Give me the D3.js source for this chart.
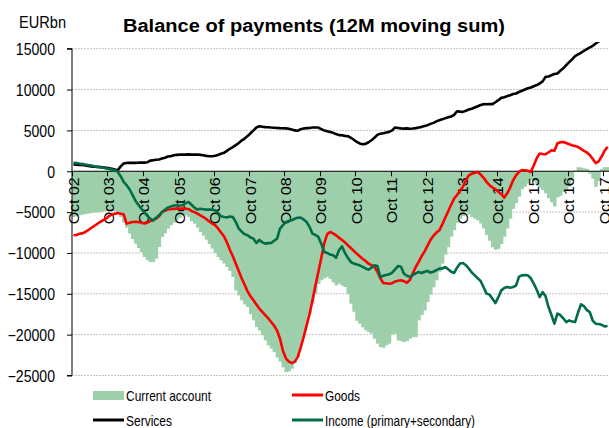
<!DOCTYPE html>
<html>
<head>
<meta charset="utf-8">
<script src="https://cdn.jsdelivr.net/npm/d3@7"></script>
<style>
  body { margin: 0; background: #fff; }
  svg { display: block; font-family: "Liberation Sans", Arial, sans-serif; }
</style>
</head>
<body>
<svg id="chart"></svg>
<script>
// monthly 12M moving sums, Oct 2002 .. Nov 2017 (EURbn)
const months = d3.timeMonth.range(new Date(2002, 9, 1), new Date(2017, 11, 1));

const tickLabels = ['Oct 02', 'Oct 03', 'Oct 04', 'Oct 05', 'Oct 06', 'Oct 07', 'Oct 08', 'Oct 09',
  'Oct 10', 'Oct 11', 'Oct 12', 'Oct 13', 'Oct 14', 'Oct 15', 'Oct 16', 'Oct 17'];
const yTicks = [-25000, -20000, -15000, -10000, -5000, 0, 5000, 10000, 15000];

const currentAccount = [
  -5600, -5500, -5390, -5300, -5250, -5190, -5100, -5050, -5000, -4980, -4900, -4860,
  -4800, -4780, -4900, -5300, -5600, -6300, -6900, -7640, -8300, -8860, -9400, -9880,
  -10500, -10900, -11110, -11100, -10700, -9270, -8040, -7600, -7020, -6600, -6300, -6000,
  -5700, -5390, -5400, -5600, -6100, -6410, -6900, -7430, -7900, -8370, -8900, -9470,
  -10000, -10500, -10900, -11300, -11720, -12200, -12940, -14580, -15200, -15800, -16300, -16620,
  -17500, -18250, -19070, -19500, -20090, -20700, -21310, -21700, -22130, -22800, -23300, -24000,
  -24580, -24500, -24170, -23500, -22750, -21300, -19880, -18700, -17430, -16200, -14980, -13800,
  -13350, -13100, -12940, -13200, -13600, -13970, -13760, -14000, -14170, -15000, -16210, -17200,
  -18300, -18660, -19100, -19480, -19700, -19880, -20500, -21100, -21520, -21600, -21300, -21110,
  -20000, -19880, -20700, -20800, -20910, -20800, -20500, -20300, -20300, -18250, -17600, -17030,
  -16000, -15100, -14200, -13350, -12300, -11310, -10200, -9300, -8000, -7200, -6300, -5800,
  -5500, -5000, -5300, -5600, -5800, -6000, -6400, -7000, -7800, -8500, -9300, -9600,
  -9500, -8900, -8000, -7000, -5800, -4600, -3900, -3100, -2200, -1900, -1500, -1100,
  -1300, -1700, -2000, -2300, -2700, -3300, -3800, -4300, -3200, -3000, -2500, -2300,
  -1900, -1100, 100, 500, 450, 350, 300, -300, -900, -1900, -1200, 300,
  500, 500
];

const goods = [
  -7840, -7800, -7640, -7600, -7430, -7200, -6950, -6700, -6450, -6210, -6000, -5800,
  -5500, -5310, -5200, -5100, -5200, -5270, -6410, -6300, -6210, -6200, -6210, -6300,
  -6410, -6300, -6100, -6000, -5800, -5510, -4980, -4850, -4690, -4650, -4600, -4570,
  -4570, -4580, -4570, -4650, -4860, -5000, -5200, -5390, -5600, -5850, -6150, -6400,
  -6600, -7000, -7500, -7950, -8700, -9600, -10400, -11300, -12200, -13100, -13900, -14700,
  -15300, -15800, -16300, -16800, -17200, -17600, -18000, -18450, -18900, -19500, -20500, -22000,
  -22900, -23300, -23480, -23300, -22750, -21600, -20300, -18900, -17500, -15800, -14000, -12300,
  -10600, -8800, -7700, -7430, -7600, -7840, -8150, -8400, -8700, -9060, -9400, -9750,
  -10080, -10400, -10700, -11000, -11310, -11500, -11720, -12300, -13100, -13680, -13700, -13760,
  -13700, -13500, -13400, -13350, -13450, -13650, -13300, -12500, -11720, -11100, -10400, -9800,
  -9100, -8400, -7900, -7500, -7230, -6500, -5700, -4900, -4100, -3350, -2900, -2400,
  -1900, -1100, -500, -290, -200, -80, -400, -800, -1300, -1700, -2000, -2200,
  -2500, -2800, -3230, -2700, -2000, -1100, -500, -80, 150, 120, 50, -80,
  700, 1600, 2170, 2100, 2080, 2300, 2570, 2500, 3390, 3550, 3590, 3450,
  3300, 3190, 3100, 2980, 2750, 2500, 2300, 2000, 1500, 1000, 1200, 1800,
  2500, 2980
];

const services = [
  820, 800, 780, 760, 700, 650, 600, 560, 530, 500, 470, 430,
  380, 300, 200, 120, 600, 950, 1020, 1030, 1040, 1020, 1050, 1060,
  1060, 1100, 1300, 1350, 1400, 1430, 1550, 1650, 1800, 1850, 1950, 2000,
  2040, 2050, 2040, 2060, 2030, 2040, 2050, 2000, 1950, 1880, 1840, 1840,
  1900, 2000, 2150, 2250, 2500, 2750, 2950, 3200, 3450, 3750, 4000, 4300,
  4650, 5000, 5350, 5500, 5450, 5400, 5380, 5350, 5330, 5300, 5280, 5270,
  5250, 5200, 5100, 5000, 4950, 5150, 5230, 5280, 5300, 5350, 5350, 5350,
  5150, 5000, 4900, 4800, 4700, 4550, 4420, 4400, 4330, 4290, 4100, 3850,
  3600, 3400, 3300, 3350, 3550, 3800, 4100, 4450, 4600, 4650, 4750, 4820,
  5000, 5350, 5300, 5250, 5220, 5250, 5200, 5230, 5280, 5350, 5430, 5550,
  5640, 5800, 5920, 6100, 6250, 6350, 6500, 6600, 6700, 6900, 7350, 7300,
  7270, 7400, 7550, 7650, 7800, 7950, 8100, 8210, 8200, 8220, 8210, 8450,
  8700, 8980, 9050, 9200, 9300, 9450, 9520, 9700, 9850, 10000, 10150, 10250,
  10400, 10550, 10740, 11000, 11550, 11600, 11750, 11900, 11960, 12300, 12600, 12985,
  13350, 13700, 14090, 14300, 14500, 14740, 14950, 15150, 15350, 15640, 15900, 16150,
  16400, 16600
];

const income = [
  1020, 1000, 940, 900, 820, 750, 700, 620, 560, 500, 450, 350,
  280, 200, 100, -80, -600, -1310, -1700, -2200, -2900, -3600, -4100, -4600,
  -5000, -5450, -5800, -6000, -5700, -5400, -5000, -4700, -4450, -4300, -4200, -4160,
  -4200, -4160, -3900, -3760, -4100, -4450, -4690, -4600, -4650, -4700, -4690, -4700,
  -4780, -5100, -5510, -5600, -5650, -5550, -5600, -6200, -7000, -7400, -7700, -7840,
  -8100, -8250, -8780, -8400, -8700, -8860, -8800, -8780, -8500, -8250, -7020, -6600,
  -6210, -6100, -6000, -5800, -5700, -5680, -5900, -6210, -6800, -7640, -7800, -8040,
  -8900, -9880, -10000, -10200, -10290, -10580, -9680, -9190, -10000, -10600, -11110, -11300,
  -11400, -11510, -11700, -11900, -12040, -11800, -11510, -11600, -12940, -12800, -12700, -12620,
  -12400, -12000, -11600, -11700, -12530, -12800, -12940, -12700, -12500, -12330, -12450, -12300,
  -12210, -12400, -12300, -12100, -11920, -11900, -11720, -12000, -12300, -12450, -11800, -11300,
  -11230, -11500, -11920, -12400, -12740, -13100, -13430, -14200, -14980, -15100, -15600, -16130,
  -15400, -14580, -14300, -14170, -14250, -14170, -14000, -12900, -12740, -12700, -12740, -13100,
  -13760, -14500, -15400, -14790, -15300, -16620, -17600, -18660, -17430, -17600, -18000, -18460,
  -18250, -18400, -18460, -17300, -16290, -16500, -17000, -17240, -18300, -18660, -18700, -18800,
  -18990, -18950
];

const width = 609;
const height = 428;
const plotLeft = 72;
const plotRight = 609;
const plotTop = 48.7;
const plotBottom = 375.5;
const textScale = 'scale(0.88,1)';

const svg = d3.select('#chart')
  .attr('width', width)
  .attr('height', height);

const x = d3.scaleBand()
  .domain(months)
  .range([plotLeft, plotRight])
  .padding(0);
const bw = x.bandwidth();

const y = d3.scaleLinear()
  .domain([-25000, 15000])
  .range([plotBottom, plotTop]);

// gridlines
svg.append('g')
  .selectAll('line')
  .data(yTicks.filter(d => d !== 0))
  .enter().append('line')
  .attr('x1', plotLeft)
  .attr('x2', plotRight)
  .attr('y1', d => y(d))
  .attr('y2', d => y(d))
  .attr('stroke', '#c4c4c4')
  .attr('stroke-width', 1)
  .attr('stroke-dasharray', '2,1');

svg.append('clipPath')
  .attr('id', 'plot')
  .append('rect')
  .attr('x', plotLeft)
  .attr('y', 42)
  .attr('width', plotRight - plotLeft)
  .attr('height', 340);

// current account columns
svg.append('g')
  .selectAll('rect')
  .data(currentAccount)
  .enter().append('rect')
  .attr('x', (d, i) => x(months[i]))
  .attr('width', bw + 0.6)
  .attr('y', d => y(Math.max(0, d)))
  .attr('height', d => Math.abs(y(d) - y(0)))
  .attr('fill', '#9dcfab');

// y axis
const yAxis = svg.append('g')
  .attr('transform', `translate(${plotLeft},0)`)
  .call(d3.axisLeft(y).tickValues(yTicks).tickSize(5).tickFormat(d3.format('d')));
yAxis.select('.domain').attr('d', `M-5,${plotTop}H0V${plotBottom}H-5`).attr('stroke', '#000');
yAxis.selectAll('.tick line').attr('stroke', '#000');
yAxis.selectAll('.tick text')
  .attr('x', 0)
  .attr('dy', '0.36em')
  .attr('transform', `translate(-17,0) ${textScale}`)
  .attr('fill', '#000')
  .style('font-size', '16px')
  .style('font-family', '"Liberation Sans", Arial, sans-serif');

// x axis on zero line
const octobers = months.filter(m => m.getMonth() === 9);
const xAxis = svg.append('g');
xAxis.append('line')
  .attr('x1', plotLeft)
  .attr('x2', plotRight)
  .attr('y1', y(0))
  .attr('y2', y(0))
  .attr('stroke', '#000')
  .attr('stroke-width', 1);
xAxis.selectAll('.xtick')
  .data(octobers)
  .enter().append('line')
  .attr('x1', d => Math.round(x(d)) + 0.5)
  .attr('x2', d => Math.round(x(d)) + 0.5)
  .attr('y1', y(0))
  .attr('y2', y(0) + 5)
  .attr('stroke', '#000');

// lines
const line = d3.line()
  .x((d, i) => x(months[i]) + bw / 2)
  .y(d => y(d));

const series = [
  { values: goods, color: '#ff0000' },
  { values: services, color: '#000000' },
  { values: income, color: '#006d45' },
];

svg.append('g')
  .attr('clip-path', 'url(#plot)')
  .selectAll('path')
  .data(series)
  .enter().append('path')
  .attr('d', d => line(d.values))
  .attr('fill', 'none')
  .attr('stroke', d => d.color)
  .attr('stroke-width', 2.6)
  .attr('stroke-linejoin', 'round');

// x labels, rotated
xAxis.selectAll('.xlabel')
  .data(octobers)
  .enter().append('text')
  .attr('transform', d => `translate(${x(d) + bw / 2},${y(0) + 6}) ${textScale} rotate(-90)`)
  .attr('text-anchor', 'end')
  .attr('dy', '0.36em')
  .style('font-size', '16px')
  .text((d, i) => tickLabels[i]);

// title and unit
svg.append('text')
  .attr('x', 123)
  .attr('y', 32)
  .attr('textLength', 382)
  .attr('lengthAdjust', 'spacingAndGlyphs')
  .style('font-size', '18px')
  .style('font-weight', 'bold')
  .text('Balance of payments (12M moving sum)');

svg.append('text')
  .attr('x', 19)
  .attr('y', 28)
  .attr('textLength', 47)
  .attr('lengthAdjust', 'spacingAndGlyphs')
  .style('font-size', '16px')
  .text('EURbn');

// legend
const legend = [
  { name: 'Current account', type: 'bar', color: '#9dcfab', x: 93, y: 395, len: 85 },
  { name: 'Goods', type: 'line', color: '#ff0000', x: 292, y: 395, len: 35 },
  { name: 'Services', type: 'line', color: '#000000', x: 93, y: 420, len: 46 },
  { name: 'Income (primary+secondary)', type: 'line', color: '#006d45', x: 292, y: 420, len: 150 },
];

const entry = svg.append('g')
  .selectAll('g')
  .data(legend)
  .enter().append('g');

entry.filter(d => d.type === 'bar').append('rect')
  .attr('x', d => d.x)
  .attr('y', d => d.y - 4)
  .attr('width', 31)
  .attr('height', 9)
  .attr('fill', d => d.color);

entry.filter(d => d.type === 'line').append('line')
  .attr('x1', d => d.x)
  .attr('x2', d => d.x + 31)
  .attr('y1', d => d.y)
  .attr('y2', d => d.y)
  .attr('stroke', d => d.color)
  .attr('stroke-width', 3);

entry.append('text')
  .attr('x', d => d.x + 33)
  .attr('y', d => d.y + 5.5)
  .attr('textLength', d => d.len)
  .attr('lengthAdjust', 'spacingAndGlyphs')
  .style('font-size', '15px')
  .text(d => d.name);
</script>
</body>
</html>
